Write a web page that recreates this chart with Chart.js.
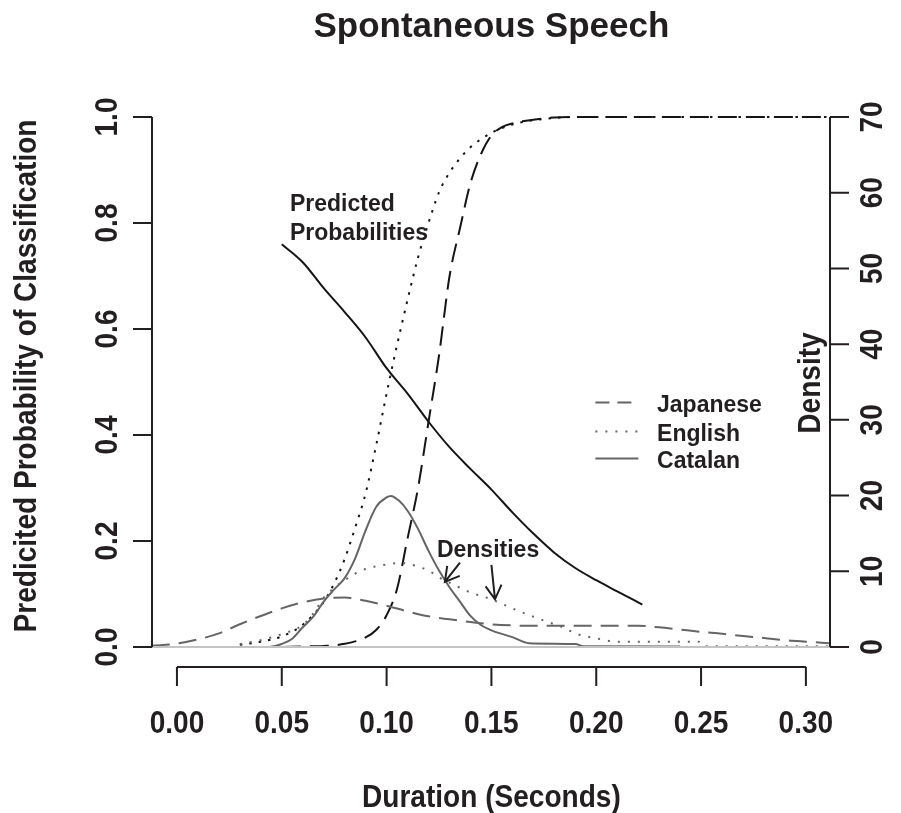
<!DOCTYPE html>
<html><head><meta charset="utf-8">
<script src="https://cdn.jsdelivr.net/npm/chart.js@4.4.1/dist/chart.umd.min.js"></script>
<style>html,body{margin:0;padding:0;background:#fff;}#wrap{width:901px;height:813px;}</style>
</head><body><div id="wrap"><canvas id="c" width="901" height="813"></canvas></div>
<script>
// ---------- data ----------
const chartTitle = 'Spontaneous Speech';
const xTitle = 'Duration (Seconds)';
const yTitle = 'Predicited Probability of Classification';
const y2Title = 'Density';
const languages = ['Japanese', 'English', 'Catalan'];

const xTicks = [0, 0.05, 0.10, 0.15, 0.20, 0.25, 0.30];
const xTickLabels = ['0.00', '0.05', '0.10', '0.15', '0.20', '0.25', '0.30'];
const yTicks = [0, 0.2, 0.4, 0.6, 0.8, 1.0];
const yTickLabels = ['0.0', '0.2', '0.4', '0.6', '0.8', '1.0'];
const y2Ticks = [0, 10, 20, 30, 40, 50, 60, 70];
const y2TickLabels = ['0', '10', '20', '30', '40', '50', '60', '70'];

// predicted probabilities (left axis)
const jpProbX = [0.05,0.06,0.07,0.08,0.09,0.095,0.10,0.105,0.11,0.115,0.12,0.125,0.13,0.135,0.14,0.145,0.15,0.155,0.16,0.17,0.18,0.19,0.20,0.25,0.311];
const jpProbY = [0,0.001,0.002,0.006,0.018,0.032,0.060,0.110,0.205,0.300,0.425,0.550,0.699,0.790,0.875,0.930,0.965,0.981,0.988,0.995,0.999,1,1,1,1];
const enProbX = [0.03,0.04,0.05,0.06,0.07,0.075,0.08,0.085,0.09,0.095,0.10,0.105,0.11,0.115,0.12,0.125,0.13,0.135,0.14,0.15,0.16,0.17,0.18,0.19,0.20,0.25,0.311];
const enProbY = [0.004,0.010,0.020,0.042,0.085,0.120,0.166,0.225,0.290,0.380,0.478,0.570,0.655,0.735,0.800,0.858,0.895,0.922,0.943,0.970,0.986,0.994,0.998,1,1,1,1];
const caProbX = [0.05,0.06,0.07,0.08,0.09,0.10,0.11,0.12,0.13,0.14,0.15,0.16,0.17,0.18,0.19,0.20,0.21,0.222];
const caProbY = [0.760,0.726,0.677,0.632,0.584,0.526,0.478,0.425,0.377,0.336,0.297,0.254,0.214,0.178,0.149,0.126,0.105,0.080];

// densities (right axis)
const jpDensX = [-0.012,0.000,0.010,0.020,0.030,0.040,0.050,0.060,0.070,0.080,0.090,0.100,0.110,0.120,0.130,0.140,0.150,0.160,0.170,0.220,0.230,0.240,0.250,0.260,0.270,0.280,0.290,0.300,0.311];
const jpDensY = [0.15,0.45,1.0,1.8,3.0,4.1,5.1,5.9,6.4,6.55,6.1,5.45,4.7,4.05,3.65,3.3,3.0,2.85,2.8,2.8,2.6,2.3,2.0,1.75,1.45,1.2,0.9,0.7,0.5];
const enDensX = [0.030,0.040,0.050,0.060,0.065,0.070,0.075,0.080,0.085,0.090,0.100,0.106,0.110,0.115,0.120,0.125,0.130,0.140,0.150,0.160,0.170,0.180,0.185,0.190,0.200,0.210,0.249,0.251,0.311];
const enDensY = [0.4,0.9,1.7,2.9,4.4,6.5,7.8,8.8,9.7,10.3,10.9,11.1,11.0,10.6,10.1,9.2,8.5,7.2,6.3,5.1,4.0,3.0,2.5,1.8,1.15,0.7,0.7,0.1,0.1];
const caDensX = [0.040,0.045,0.050,0.055,0.060,0.065,0.070,0.075,0.080,0.085,0.090,0.095,0.100,0.102,0.106,0.110,0.115,0.120,0.125,0.130,0.135,0.140,0.145,0.150,0.160,0.168,0.190,0.194,0.240];
const caDensY = [0,0.05,0.4,1.1,2.6,4.0,6.0,7.6,9.1,11.7,15.4,18.5,19.75,19.95,19.3,18.0,15.6,12.7,10.1,7.9,6.0,4.1,2.9,2.2,1.3,0.5,0.4,0.1,0.05];
const baseX = [-0.0119, 0.3115];
const baseY = [0, 0];

// annotations (data coordinates)
const probLabelLines = ['Predicted', 'Probabilities'];
const densLabel = 'Densities';

// ---------- helpers ----------
const pts = (xa, ya) => xa.map((x, i) => ({x: x, y: ya[i]}));
const INK = '#231f20';
const GREY = '#656565';
const FONT = '"Liberation Sans", Arial, Helvetica, sans-serif';

function line(ds, color, dash, axis, width) {
  return {data: ds, borderColor: color, borderDash: dash, borderWidth: width || 2,
    yAxisID: axis, pointRadius: 0, fill: false, cubicInterpolationMode: 'monotone',
    borderCapStyle: 'butt', clip: 6};
}

// sx: horizontal compression of the glyphs (reference font is slightly narrow)
function txt(ctx, s, x, y, font, align, rot, sx) {
  ctx.save();
  ctx.translate(x, y);
  if (rot) ctx.rotate(rot);
  if (sx) ctx.scale(sx, 1);
  ctx.font = font;
  ctx.fillStyle = INK;
  ctx.textAlign = align || 'left';
  ctx.textBaseline = 'alphabetic';
  ctx.fillText(s, 0, 0);
  ctx.restore();
}

function arrow(ctx, x0, y0, x1, y1) {
  const a = Math.atan2(y1 - y0, x1 - x0), L = 16, sp = Math.PI / 6;
  ctx.beginPath();
  ctx.moveTo(x0, y0); ctx.lineTo(x1, y1);
  ctx.moveTo(x1 - L * Math.cos(a - sp), y1 - L * Math.sin(a - sp));
  ctx.lineTo(x1, y1);
  ctx.lineTo(x1 - L * Math.cos(a + sp), y1 - L * Math.sin(a + sp));
  ctx.stroke();
}

const decor = {
  id: 'decor',
  afterDraw(chart) {
    const ctx = chart.ctx, xs = chart.scales.x, ys = chart.scales.y, y2 = chart.scales.y2;
    const ca = chart.chartArea;
    ctx.save();
    ctx.strokeStyle = INK; ctx.lineWidth = 2; ctx.setLineDash([]); ctx.lineCap = 'butt';
    // left axis
    ctx.beginPath();
    ctx.moveTo(ca.left, ys.getPixelForValue(0)); ctx.lineTo(ca.left, ys.getPixelForValue(1));
    yTicks.forEach(v => { const p = ys.getPixelForValue(v); ctx.moveTo(ca.left, p); ctx.lineTo(ca.left - 19, p); });
    ctx.stroke();
    // right axis
    ctx.beginPath();
    ctx.moveTo(ca.right, y2.getPixelForValue(0)); ctx.lineTo(ca.right, y2.getPixelForValue(70));
    y2Ticks.forEach(v => { const p = y2.getPixelForValue(v); ctx.moveTo(ca.right, p); ctx.lineTo(ca.right + 19, p); });
    ctx.stroke();
    // bottom axis (offset below plot)
    const ax = ca.bottom + 20;
    ctx.beginPath();
    ctx.moveTo(xs.getPixelForValue(xTicks[0]), ax); ctx.lineTo(xs.getPixelForValue(xTicks[xTicks.length - 1]), ax);
    xTicks.forEach(v => { const p = xs.getPixelForValue(v); ctx.moveTo(p, ax); ctx.lineTo(p, ax + 19); });
    ctx.stroke();

    const fAx = 'bold 30.5px ' + FONT, fAn = 'bold 23px ' + FONT, SX = 0.92;
    xTicks.forEach((v, i) => txt(ctx, xTickLabels[i], xs.getPixelForValue(v), ax + 66, fAx, 'center', 0, SX));
    yTicks.forEach((v, i) => txt(ctx, yTickLabels[i], ca.left - 35, ys.getPixelForValue(v), fAx, 'center', -Math.PI / 2, SX));
    y2Ticks.forEach((v, i) => txt(ctx, y2TickLabels[i], ca.right + 52, y2.getPixelForValue(v), fAx, 'center', -Math.PI / 2, SX));
    // titles
    const cx = (xs.getPixelForValue(0) + xs.getPixelForValue(0.3)) / 2;
    txt(ctx, chartTitle, cx, 37, 'bold 35px ' + FONT, 'center');
    txt(ctx, xTitle, cx, 807, fAx, 'center', 0, SX);
    txt(ctx, yTitle, 36, (ca.top + ca.bottom) / 2 - 6, fAx, 'center', -Math.PI / 2, SX);
    txt(ctx, y2Title, ca.right - 10, (ca.top + ca.bottom) / 2 + 1, fAx, 'center', -Math.PI / 2, SX);

    // annotations
    txt(ctx, probLabelLines[0], xs.getPixelForValue(0.0539), ys.getPixelForValue(0.8226), fAn, 'left');
    txt(ctx, probLabelLines[1], xs.getPixelForValue(0.0539), ys.getPixelForValue(0.7680), fAn, 'left');
    txt(ctx, densLabel, xs.getPixelForValue(0.124), ys.getPixelForValue(0.170), fAn, 'left');
    ctx.lineWidth = 2;
    arrow(ctx, xs.getPixelForValue(0.135), ys.getPixelForValue(0.159), xs.getPixelForValue(0.1278), ys.getPixelForValue(0.123));
    arrow(ctx, xs.getPixelForValue(0.150), ys.getPixelForValue(0.155), xs.getPixelForValue(0.1517), ys.getPixelForValue(0.090));

    // legend
    const lx0 = xs.getPixelForValue(0.1996), lx1 = xs.getPixelForValue(0.2201), tx = xs.getPixelForValue(0.229);
    const legRows = [0.4613, 0.4065, 0.3555];
    const legDash = [[14, 8], [2, 8], []];
    ctx.strokeStyle = GREY; ctx.lineWidth = 2;
    legRows.forEach((r, i) => {
      const yy = ys.getPixelForValue(r);
      ctx.setLineDash(legDash[i]);
      ctx.beginPath(); ctx.moveTo(lx0, yy); ctx.lineTo(lx1, yy); ctx.stroke();
      ctx.setLineDash([]);
      txt(ctx, languages[i], tx, yy + 9, fAn, 'left');
    });
    ctx.restore();
  }
};

new Chart(document.getElementById('c'), {
  type: 'line',
  data: {
    datasets: [
      line(pts(baseX, baseY), '#c4c4c4', [], 'y2', 2),
      line(pts(jpDensX, jpDensY), GREY, [18, 9], 'y2'),
      line(pts(enDensX, enDensY), GREY, [2, 8], 'y2'),
      line(pts(caDensX, caDensY), GREY, [], 'y2'),
      line(pts(jpProbX, jpProbY), '#151515', [19, 9], 'y'),
      line(pts(enProbX, enProbY), '#151515', [2.5, 7], 'y'),
      line(pts(caProbX, caProbY), '#151515', [], 'y')
    ]
  },
  options: {
    responsive: false,
    devicePixelRatio: 1,
    animation: false,
    layout: {padding: {left: 152, right: 71, top: 117, bottom: 166}},
    plugins: {legend: {display: false}, title: {display: false}, tooltip: {enabled: false}},
    scales: {
      x: {type: 'linear', min: -0.0119, max: 0.3115, display: false},
      y: {type: 'linear', min: 0, max: 1, display: false},
      y2: {type: 'linear', min: 0, max: 70, display: false, position: 'right'}
    }
  },
  plugins: [decor]
});
</script></body></html>
